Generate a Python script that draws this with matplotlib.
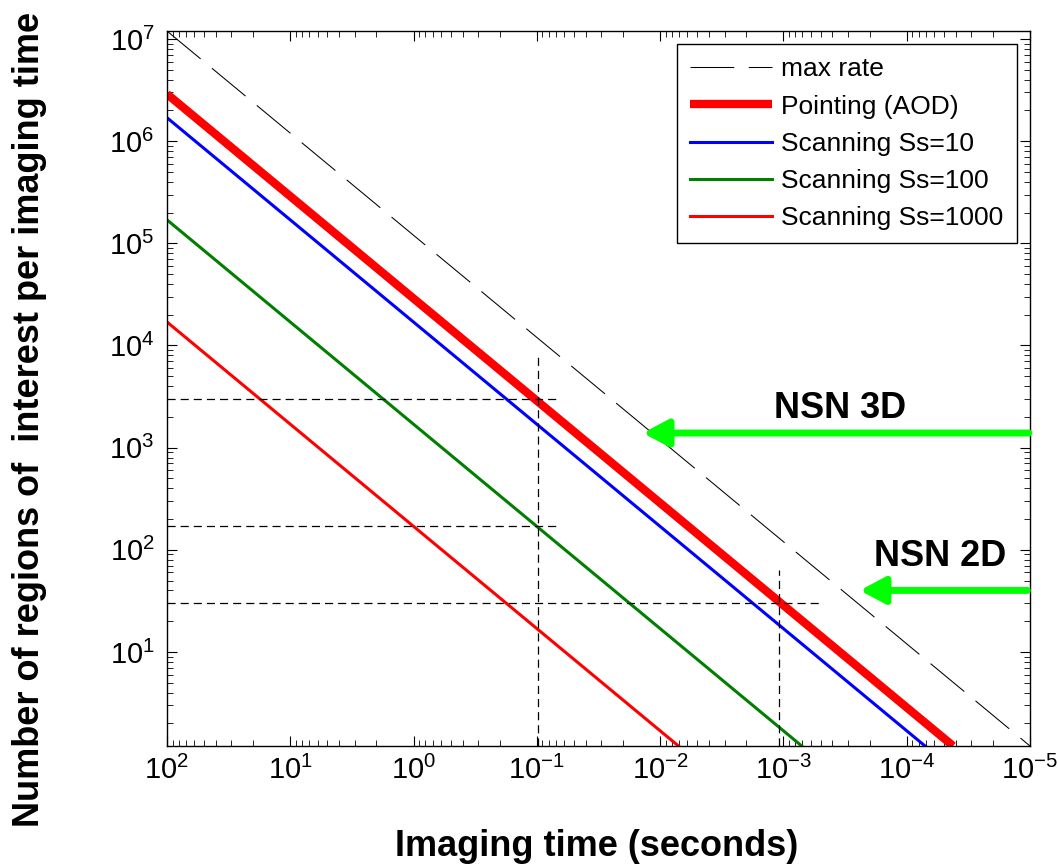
import matplotlib
matplotlib.use("Agg")
import matplotlib.pyplot as plt
import numpy as np

plt.rcParams["font.family"] = ["Liberation Sans", "DejaVu Sans"]
plt.rcParams["mathtext.fontset"] = "custom"
plt.rcParams["mathtext.rm"] = "Liberation Sans"
plt.rcParams["mathtext.it"] = "Liberation Sans:italic"
plt.rcParams["mathtext.bf"] = "Liberation Sans:bold"
plt.rcParams["axes.unicode_minus"] = False

# line end points (left edge and where each leaves the axes)
max_rate_t = [1e2, 1e-5]
max_rate_y = [1.2e7, 1.2]
pointing_t = [1e2, 4.2e-5]
pointing_y = [2.9e6, 1.2]
scan10_t = [1e2, 7.1e-5]
scan10_y = [1.7e6, 1.2]
scan100_t = [1e2, 7.1e-4]
scan100_y = [1.7e5, 1.2]
scan1000_t = [1e2, 7.1e-3]
scan1000_y = [1.7e4, 1.2]

# guide lines
hguide_y = [3000, 170, 30]
hguide_end_t = [0.065, 0.065, 4.9e-4]
vguide_t = [0.098, 1.08e-3]
vguide_top = [8000, 63]

# NSN arrows
arrow_labels = ["NSN 3D", "NSN 2D"]
arrow_y = [1390, 40]
arrow_head_t = [0.0138, 2.4e-4]
arrow_tail_t = [1.02e-5, 1.05e-5]
label_t = [3.5e-4, 5.4e-5]
label_y = [2400, 86]

XLIM = (1e2, 1e-5)
YLIM = (1.2, 1.2e7)

fig = plt.figure(figsize=(10.58, 8.68), dpi=100)
ax = fig.add_axes([0.1578, 0.1406, 0.8157, 0.8237])
ax.set_xscale("log")
ax.set_yscale("log")

ax.plot(max_rate_t, max_rate_y, color="black", lw=0.75, dashes=(42, 14), label="max rate")
ax.plot(pointing_t, pointing_y, color="#FF0000", lw=6, solid_capstyle="butt", label="Pointing (AOD)")
ax.plot(scan10_t, scan10_y, color="#0000FF", lw=2.2, label="Scanning Ss=10")
ax.plot(scan100_t, scan100_y, color="#007F00", lw=2.2, label="Scanning Ss=100")
ax.plot(scan1000_t, scan1000_y, color="#FF0000", lw=2.2, label="Scanning Ss=1000")

for y, t_end in zip(hguide_y, hguide_end_t):
    ax.plot([XLIM[0], t_end], [y, y], color="black", lw=0.9, dashes=(6.5, 4))
for t, top in zip(vguide_t, vguide_top):
    ax.plot([t, t], [YLIM[0], top], color="black", lw=0.9, dashes=(6.5, 4))

for lab, y, th, tt, lt, ly in zip(arrow_labels, arrow_y, arrow_head_t, arrow_tail_t, label_t, label_y):
    ax.annotate("", xy=(th, y), xytext=(tt, y), annotation_clip=False,
                arrowprops=dict(arrowstyle="-|>,head_length=0.75,head_width=0.4",
                                color="#00FF00", lw=5, shrinkA=0, shrinkB=0,
                                mutation_scale=20))
    ax.text(lt, ly, lab, fontsize=26, fontweight="bold", ha="center", va="center")

ax.set_xlim(*XLIM)
ax.set_ylim(*YLIM)
ax.tick_params(which="both", direction="in", top=True, right=True, labelsize=21)
ax.tick_params(axis="x", which="major", pad=7)
ax.tick_params(axis="y", which="major", pad=9)
ax.tick_params(which="major", length=7, width=0.8)
ax.tick_params(which="minor", length=4, width=0.6)
for sp in ax.spines.values():
    sp.set_linewidth(1.0)

leg = ax.legend(loc="upper right", fontsize=19, handlelength=3.1, handletextpad=0.35,
                labelspacing=0.5, borderpad=0.5, borderaxespad=0.5, fancybox=False,
                framealpha=1)
leg.get_frame().set_edgecolor("black")
leg.get_frame().set_linewidth(1.0)

fig.text(597 / 1058, 1 - 846 / 868, "Imaging time (seconds)", fontsize=26,
         fontweight="bold", ha="center", va="center")
fig.text(30 / 1058, 1 - 419 / 868, "Number of regions of  interest per imaging time",
         fontsize=26, fontweight="bold", rotation=90, ha="center", va="center")

fig.savefig("out.png", dpi=100)
